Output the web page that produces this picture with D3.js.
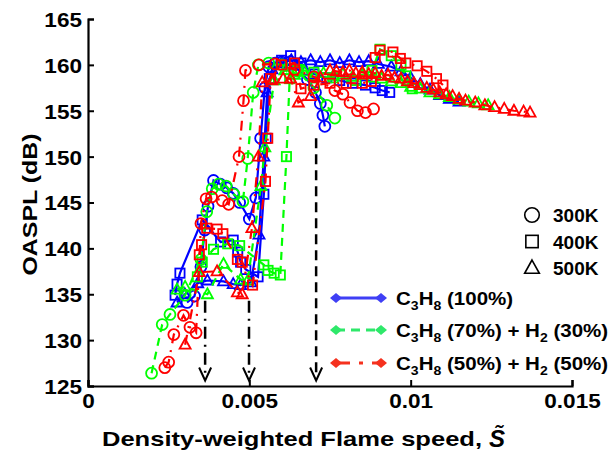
<!DOCTYPE html>
<html>
<head>
<meta charset="utf-8">
<script src="https://cdn.jsdelivr.net/npm/d3@7/dist/d3.min.js"></script>
<style>
  html, body { margin: 0; padding: 0; background: #fff; }
  svg text { font-family: Arial, "Liberation Sans", sans-serif; font-weight: bold; fill: #000; }
</style>
</head>
<body>
<svg id="chart" width="613" height="453"></svg>
<script>
// axis ticks
const xTicks = [0, 0.005, 0.01, 0.015];
const xTickLabels = ['0', '0.005', '0.01', '0.015'];
const yTicks = [125, 130, 135, 140, 145, 150, 155, 160, 165];

// C3H8 (100%)
const c3h8_300K = [[0.00307,134.1],[0.00330,134.8],[0.00350,138.0],[0.00362,142.0],[0.00372,144.6],[0.00389,147.4],[0.00410,147.0],[0.00430,146.6],[0.00450,146.0],[0.00470,145.0],[0.00500,143.2],[0.00520,145.5],[0.00535,152.0],[0.00548,157.5],[0.00560,159.8],[0.00580,160.2],[0.00600,160.3],[0.00620,160.0],[0.00650,159.5],[0.00680,158.4],[0.00705,157.0],[0.00720,155.8],[0.00728,154.5],[0.00734,153.3]];
const c3h8_400K = [[0.00270,134.9],[0.00276,136.1],[0.00285,137.3],[0.00354,143.1],[0.00411,140.7],[0.00450,140.9],[0.00464,139.6],[0.00473,138.5],[0.00489,137.7],[0.00527,136.9],[0.00545,145.9],[0.00552,152.0],[0.00562,158.5],[0.00600,160.5],[0.00628,161.0],[0.00660,160.2],[0.00700,159.0],[0.00740,158.6],[0.00780,158.3],[0.00820,158.0],[0.00860,157.8],[0.00890,157.5],[0.00912,157.2],[0.00935,157.0]];
const c3h8_500K = [[0.00276,134.1],[0.00300,135.0],[0.00340,136.2],[0.00370,136.5],[0.00420,136.4],[0.00450,136.1],[0.00473,136.0],[0.00505,136.3],[0.00530,141.5],[0.00545,150.0],[0.00555,157.0],[0.00570,159.5],[0.00600,160.2],[0.00630,160.5],[0.00660,160.3],[0.00690,160.5],[0.00720,160.3],[0.00750,160.5],[0.00780,160.2],[0.00810,160.5],[0.00840,160.3],[0.00870,160.4],[0.00900,160.1],[0.00940,159.8],[0.00970,159.3],[0.01000,158.6],[0.01030,157.9],[0.01060,157.3],[0.01090,156.7],[0.01120,156.3],[0.01150,156.0]];

// C3H8 (70%) + H2 (30%)
const mix30_300K = [[0.00197,126.4],[0.00230,131.7],[0.00254,132.8],[0.00301,134.9],[0.00350,138.8],[0.00368,144.0],[0.00385,146.5],[0.00405,147.0],[0.00428,146.8],[0.00452,145.9],[0.00480,145.1],[0.00495,149.8],[0.00512,157.0],[0.00528,160.0],[0.00560,160.2],[0.00600,160.0],[0.00650,159.3],[0.00700,157.5],[0.00740,155.6],[0.00765,154.2]];
const mix30_400K = [[0.00339,136.9],[0.00354,138.5],[0.00389,139.9],[0.00433,140.5],[0.00470,140.3],[0.00545,138.2],[0.00558,137.6],[0.00577,137.3],[0.00596,137.1],[0.00615,150.0],[0.00625,158.5],[0.00650,159.5],[0.00700,159.2],[0.00760,158.6],[0.00830,158.3],[0.00880,159.4],[0.00905,161.7],[0.00940,161.0],[0.00970,160.0],[0.00985,158.8],[0.01005,157.4]];
const mix30_500K = [[0.00276,135.5],[0.00301,135.8],[0.00370,135.0],[0.00420,138.3],[0.00473,136.6],[0.00495,136.5],[0.00536,146.8],[0.00548,151.0],[0.00577,158.3],[0.00610,159.4],[0.00640,158.9],[0.00670,159.3],[0.00700,158.8],[0.00730,159.1],[0.00760,158.8],[0.00790,159.0],[0.00820,158.7],[0.00850,158.9],[0.00880,158.6],[0.00910,158.5],[0.00940,158.2],[0.00970,158.0],[0.01000,157.6],[0.01030,157.4],[0.01060,157.0],[0.01090,156.8],[0.01120,156.5],[0.01150,156.2],[0.01180,156.0],[0.01210,155.8],[0.01240,155.6]];

// C3H8 (50%) + H2 (50%)
const mix50_300K = [[0.00238,127.0],[0.00250,127.6],[0.00266,130.6],[0.00296,132.7],[0.00316,131.4],[0.00335,130.8],[0.00350,142.7],[0.00366,145.4],[0.00383,145.6],[0.00416,145.2],[0.00436,144.8],[0.00468,150.0],[0.00482,156.1],[0.00488,159.4],[0.00530,160.0],[0.00580,160.1],[0.00640,159.5],[0.00700,158.7],[0.00765,157.2],[0.00790,156.8],[0.00812,155.9],[0.00835,155.0],[0.00860,154.8],[0.00885,155.2]];
const mix50_400K = [[0.00345,139.3],[0.00352,140.4],[0.00368,142.2],[0.00400,142.1],[0.00418,141.6],[0.00463,138.8],[0.00478,138.5],[0.00510,136.0],[0.00550,147.3],[0.00557,152.0],[0.00566,158.5],[0.00600,160.0],[0.00640,160.2],[0.00660,157.4],[0.00700,157.8],[0.00750,158.0],[0.00800,158.0],[0.00850,158.0],[0.00878,158.2],[0.00890,160.8],[0.00905,161.6],[0.00945,161.4],[0.00968,160.7],[0.00985,160.2],[0.01020,159.9],[0.01050,159.3],[0.01080,158.5],[0.01100,157.8]];
const mix50_500K = [[0.00301,129.5],[0.00345,137.4],[0.00400,137.5],[0.00463,135.2],[0.00478,135.0],[0.00508,142.2],[0.00528,150.0],[0.00540,158.1],[0.00570,158.3],[0.00605,158.5],[0.00628,158.5],[0.00652,155.9],[0.00690,156.6],[0.00720,158.6],[0.00750,159.4],[0.00770,159.3],[0.00790,159.2],[0.00810,159.4],[0.00830,159.1],[0.00850,159.2],[0.00870,159.0],[0.00890,159.1],[0.00910,158.8],[0.00930,158.9],[0.00950,158.6],[0.00970,158.5],[0.00990,158.2],[0.01010,158.0],[0.01030,157.8],[0.01050,157.5],[0.01070,157.3],[0.01090,157.0],[0.01110,156.8],[0.01130,156.6],[0.01150,156.3],[0.01170,156.1],[0.01200,155.9],[0.01230,155.6],[0.01260,155.4],[0.01290,155.2],[0.01320,155.0],[0.01350,154.9],[0.01370,154.8]];

// black arrows (x position, top of shaft)
const arrowX = [0.00363, 0.00499, 0.00707];
const arrowTop = [134.3, 134.3, 152.0];
const arrowDash = ['12,6,2,6', '12,6,2,6', '10,6'];

const tempNames = ['300K', '400K', '500K'];

const fuels = [
    { color: '#0000ff', legend: '#3f3ff5', dash: null },
    { color: '#00ff00', legend: '#2ee86a', dash: '8,6' },
    { color: '#ff0000', legend: '#f5311e', dash: '10,7,2,7' }
];
const shapes = ['circle', 'square', 'triangle'];

const series = [
    { data: c3h8_300K, fuel: 0, shape: 0 },
    { data: c3h8_400K, fuel: 0, shape: 1 },
    { data: c3h8_500K, fuel: 0, shape: 2 },
    { data: mix30_300K, fuel: 1, shape: 0 },
    { data: mix30_400K, fuel: 1, shape: 1 },
    { data: mix30_500K, fuel: 1, shape: 2 },
    { data: mix50_300K, fuel: 2, shape: 0 },
    { data: mix50_400K, fuel: 2, shape: 1 },
    { data: mix50_500K, fuel: 2, shape: 2 }
];

const svg = d3.select('#chart');

const x = d3.scaleLinear().domain([0, 0.015]).range([88, 572]);
const y = d3.scaleLinear().domain([125, 165]).range([386, 19]);

// draws one marker shape centred at (cx, cy)
function marker(g, shape, cx, cy, size, stroke, fill, sw) {
    if (shape === 'circle') {
        g.append('circle').attr('cx', cx).attr('cy', cy).attr('r', size * 0.52)
            .attr('fill', fill).attr('stroke', stroke).attr('stroke-width', sw);
    } else if (shape === 'square') {
        const s = size * 0.88;
        g.append('rect').attr('x', cx - s / 2).attr('y', cy - s / 2).attr('width', s).attr('height', s)
            .attr('fill', fill).attr('stroke', stroke).attr('stroke-width', sw);
    } else {
        const h = size * 0.95;
        const w = size * 1.05;
        g.append('path')
            .attr('d', `M${cx},${cy - h * 0.6}L${cx + w / 2},${cy + h * 0.4}L${cx - w / 2},${cy + h * 0.4}Z`)
            .attr('fill', fill).attr('stroke', stroke).attr('stroke-width', sw)
            .attr('stroke-linejoin', 'miter');
    }
}

// series lines + markers
const line = d3.line().x(d => x(d[0])).y(d => y(d[1]));
const plot = svg.append('g');

series.forEach(s => {
    const f = fuels[s.fuel];
    const g = plot.append('g');
    g.append('path')
        .attr('d', line(s.data))
        .attr('fill', 'none')
        .attr('stroke', f.color)
        .attr('stroke-width', 2.2)
        .attr('stroke-dasharray', f.dash);
    s.data.forEach(d => marker(g, shapes[s.shape], x(d[0]), y(d[1]), 10.5, f.color, 'none', 1.8));
});

// arrows
arrowX.forEach((ax, i) => {
    const px = x(ax);
    const yTop = y(arrowTop[i]);
    const yEnd = y(125.6);
    svg.append('line')
        .attr('x1', px).attr('x2', px).attr('y1', yTop).attr('y2', yEnd - 2)
        .attr('stroke', '#000').attr('stroke-width', 2.5)
        .attr('stroke-dasharray', arrowDash[i]);
    svg.append('path')
        .attr('d', `M${px - 6},${yEnd - 13}L${px},${yEnd}L${px + 6},${yEnd - 13}`)
        .attr('fill', 'none').attr('stroke', '#000').attr('stroke-width', 2);
});

// axes: left and bottom only, ticks inward
const xAxis = svg.append('g').attr('transform', `translate(0,${y(125)})`)
    .call(d3.axisBottom(x).tickValues(xTicks).tickSize(-6).tickFormat((d, i) => xTickLabels[i]));
const yAxis = svg.append('g').attr('transform', `translate(${x(0)},0)`)
    .call(d3.axisLeft(y).tickValues(yTicks).tickSize(-6).tickFormat(d3.format('d')));

[xAxis, yAxis].forEach(a => {
    a.select('.domain').attr('stroke', '#000').attr('stroke-width', 2.2);
    a.selectAll('.tick line').attr('stroke', '#000').attr('stroke-width', 2);
    a.selectAll('.tick text')
        .attr('font-family', 'Arial, "Liberation Sans", sans-serif')
        .attr('font-weight', 'bold')
        .attr('font-size', 20.5)
        .attr('fill', '#000');
});
xAxis.selectAll('.tick text').attr('dy', '0.95em').attr('y', 3);
yAxis.selectAll('.tick text').attr('x', -6).attr('dy', '0.36em');

// stretch text a little wider, like the source figure
function widen(sel, k) {
    sel.each(function () {
        const w = this.getComputedTextLength();
        d3.select(this).attr('textLength', w * k).attr('lengthAdjust', 'spacingAndGlyphs');
    });
}
widen(xAxis.selectAll('.tick text'), 1.1);
widen(yAxis.selectAll('.tick text'), 1.1);

// axis titles
svg.append('text')
    .attr('transform', `translate(37,${(y(125) + y(165)) / 2 + 2}) rotate(-90)`)
    .attr('text-anchor', 'middle')
    .attr('font-size', 21)
    .attr('textLength', 142)
    .attr('lengthAdjust', 'spacingAndGlyphs')
    .text('OASPL (dB)');

svg.append('text')
    .attr('x', 102).attr('y', 446)
    .attr('font-size', 21)
    .attr('textLength', 380)
    .attr('lengthAdjust', 'spacingAndGlyphs')
    .text('Density-weighted Flame speed,');
svg.append('text')
    .attr('x', 489).attr('y', 447)
    .attr('font-family', '"DejaVu Serif", "Liberation Serif", serif')
    .attr('font-style', 'italic')
    .attr('font-weight', 'normal')
    .attr('font-size', 24)
    .text('S\u0303');

// legend: temperatures
const tempLegend = svg.append('g');
tempNames.forEach((t, i) => {
    const ly = 215 + i * 26.5;
    marker(tempLegend, shapes[i], 532, ly, 14, '#000', 'none', 1.6);
    tempLegend.append('text')
        .attr('x', 553).attr('y', ly + 7)
        .attr('font-size', 19)
        .text(t);
});

// legend: fuels
const fuelLegend = svg.append('g');
const subParts = [
    [['C', 0], ['3', 1], ['H', 0], ['8', 1], [' (100%)', 0]],
    [['C', 0], ['3', 1], ['H', 0], ['8', 1], [' (70%) + H', 0], ['2', 1], [' (30%)', 0]],
    [['C', 0], ['3', 1], ['H', 0], ['8', 1], [' (50%) + H', 0], ['2', 1], [' (50%)', 0]]
];
fuels.forEach((f, i) => {
    const ly = [298, 330, 363][i];
    const x1 = 336, x2 = 381;
    fuelLegend.append('line')
        .attr('x1', x1).attr('x2', x2).attr('y1', ly).attr('y2', ly)
        .attr('stroke', f.legend).attr('stroke-width', 3)
        .attr('stroke-dasharray', i === 1 ? '9,6' : (i === 2 ? '14,9,4,9' : null));
    [x1, x2].forEach(dx => {
        fuelLegend.append('path')
            .attr('d', `M${dx - 6},${ly}L${dx},${ly - 5}L${dx + 6},${ly}L${dx},${ly + 5}Z`)
            .attr('fill', f.legend);
    });
    const t = fuelLegend.append('text')
        .attr('x', 396).attr('y', ly + 7)
        .attr('font-size', 19);
    subParts[i].forEach(p => {
        const sp = t.append('tspan').text(p[0]);
        if (p[1]) {
            sp.attr('font-size', 13).attr('dy', 5);
        } else {
            sp.attr('dy', t.selectAll('tspan').size() > 1 ? -5 : 0);
        }
    });
    widen(t, 1.08);
});
</script>
</body>
</html>
